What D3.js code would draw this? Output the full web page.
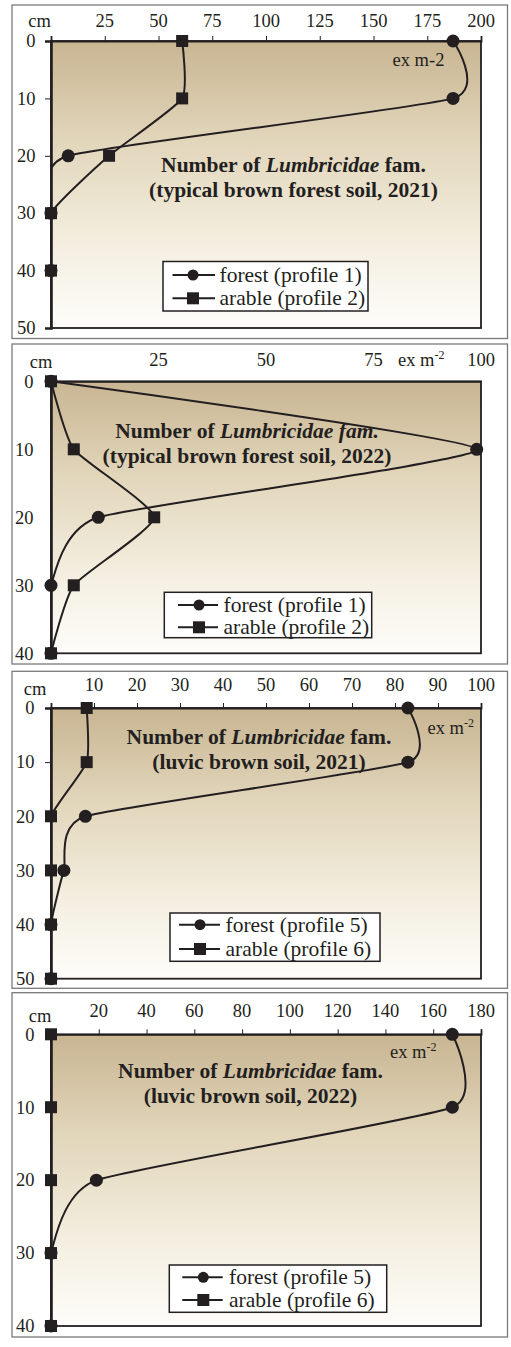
<!DOCTYPE html>
<html>
<head>
<meta charset="utf-8">
<script src="https://cdn.jsdelivr.net/npm/d3@7"></script>
<style>
  html, body { margin: 0; padding: 0; background: #fff; }
  svg { display: block; }
  text { font-family: "Liberation Serif", "Times New Roman", serif; fill: #231f20; }
</style>
</head>
<body>
<svg id="chart" width="511" height="1347"></svg>
<script>
// ---------- DATA ----------
// Panel 1: typical brown forest soil, 2021
const depths1 = [0, 10, 20, 30, 40];
const forest1 = [187, 187, 8, 0, 0];
const arable1 = [61, 61, 27, 0, 0];
const xTicks1 = [0, 25, 50, 75, 100, 125, 150, 175, 200];
const yTicks1 = [0, 10, 20, 30, 40, 50];

// Panel 2: typical brown forest soil, 2022
const depths2 = [0, 10, 20, 30, 40];
const forest2 = [0, 99, 11, 0, 0];
const arable2 = [0, 5.3, 24, 5.3, 0];
const xTicks2 = [0, 25, 50, 75, 100];
const yTicks2 = [0, 10, 20, 30, 40];

// Panel 3: luvic brown soil, 2021
const depths3 = [0, 10, 20, 30, 40, 50];
const forest3 = [83, 83, 8, 3, 0, 0];
const arable3 = [8.3, 8.3, 0, 0, 0, 0];
const xTicks3 = [0, 10, 20, 30, 40, 50, 60, 70, 80, 90, 100];
const yTicks3 = [0, 10, 20, 30, 40, 50];

// Panel 4: luvic brown soil, 2022
const depths4 = [0, 10, 20, 30, 40];
const forest4 = [168, 168, 19, 0, 0];
const arable4 = [0, 0, 0, 0, 0];
const xTicks4 = [0, 20, 40, 60, 80, 100, 120, 140, 160, 180];
const yTicks4 = [0, 10, 20, 30, 40];

const titles = [
  ["(typical brown forest soil, 2021)", false],
  ["(typical brown forest soil, 2022)", true],
  ["(luvic brown soil, 2021)", false],
  ["(luvic brown soil, 2022)", false]
];
const legendLabels = [
  ["forest (profile 1)", "arable (profile 2)"],
  ["forest (profile 1)", "arable (profile 2)"],
  ["forest (profile 5)", "arable (profile 6)"],
  ["forest (profile 5)", "arable (profile 6)"]
];
const unitSuper = [false, true, true, true];

// ---------- LAYOUT ----------
const layouts = [
  { frame: [12, 5, 507.5, 338.5], plot: [51, 41, 481, 328], showTicks: true,
    tickBase: 26.5, cmBase: 26.5, cmX: 39.5, yLabX: 35.5,
    unit: { x: 392.5, y: 65.5, inRow: false },
    title: { x: 293.5, y: 171.5 },
    legend: { box: [163, 261.5, 368, 311], rows: [275, 298.3], line: [172.5, 215], mark: 193, text: 219.5 } },
  { frame: [12, 344, 507.5, 664], plot: [51, 381.3, 481, 653.3], showTicks: false,
    tickBase: 365.5, cmBase: 368.3, cmX: 41, yLabX: 33.5,
    unit: { x: 398, y: 365.5, inRow: true },
    title: { x: 247, y: 438.3 },
    legend: { box: [164.3, 592.3, 371.7, 637.7], rows: [605, 627.3], line: [178, 218], mark: 199, text: 223.5 } },
  { frame: [12, 671.3, 507.5, 988.3], plot: [51, 708, 481, 978.7], showTicks: true,
    tickBase: 690.7, cmBase: 694.7, cmX: 35, yLabX: 34.5,
    unit: { x: 427.5, y: 733.7, inRow: false },
    title: { x: 259, y: 744 },
    legend: { box: [170, 913, 380, 961.3], rows: [924.7, 949], line: [179, 220], mark: 200, text: 225.5 } },
  { frame: [12, 992.7, 507.5, 1337], plot: [51, 1034.3, 481, 1326], showTicks: true,
    tickBase: 1016.7, cmBase: 1021.7, cmX: 40, yLabX: 34.5,
    unit: { x: 390, y: 1058.3, inRow: false },
    title: { x: 250.5, y: 1077.7 },
    legend: { box: [169.3, 1265, 386.7, 1312.3], rows: [1277.3, 1300], line: [182.3, 222.7], mark: 203.3, text: 229 } }
];

const panels = [
  { depths: depths1, forest: forest1, arable: arable1, xTicks: xTicks1, yTicks: yTicks1 },
  { depths: depths2, forest: forest2, arable: arable2, xTicks: xTicks2, yTicks: yTicks2 },
  { depths: depths3, forest: forest3, arable: arable3, xTicks: xTicks3, yTicks: yTicks3 },
  { depths: depths4, forest: forest4, arable: arable4, xTicks: xTicks4, yTicks: yTicks4 }
];

const ink = "#231f20";
const svg = d3.select("#chart");
const defs = svg.append("defs");
const grad = defs.append("linearGradient").attr("id", "soil")
  .attr("x1", 0).attr("y1", 0).attr("x2", 0).attr("y2", 1);
grad.append("stop").attr("offset", "0%").attr("stop-color", "#c8b592");
grad.append("stop").attr("offset", "35%").attr("stop-color", "#e2d6bb");
grad.append("stop").attr("offset", "70%").attr("stop-color", "#f3eedf");
grad.append("stop").attr("offset", "100%").attr("stop-color", "#fefdfa");

const curve = d3.curveCardinal.tension(0.5);

panels.forEach((p, i) => {
  const L = layouts[i];
  const [px0, py0, px1, py1] = L.plot;
  const x = d3.scaleLinear().domain([0, d3.max(p.xTicks)]).range([px0, px1]);
  const y = d3.scaleLinear().domain([0, d3.max(p.yTicks)]).range([py0, py1]);
  const g = svg.append("g");

  // outer frame
  const [fx0, fy0, fx1, fy1] = L.frame;
  g.append("rect").attr("x", fx0).attr("y", fy0).attr("width", fx1 - fx0).attr("height", fy1 - fy0)
    .attr("fill", "#fff").attr("stroke", "#7a7a7a").attr("stroke-width", 1.3);

  // plot area
  g.append("rect").attr("x", px0).attr("y", py0).attr("width", px1 - px0).attr("height", py1 - py0)
    .attr("fill", "url(#soil)").attr("stroke", ink).attr("stroke-width", 1.8);

  // top axis
  const xAxis = d3.axisTop(x).tickValues(p.xTicks).tickSize(L.showTicks ? 5 : 0).tickFormat("");
  const xa = g.append("g").attr("transform", `translate(0,${py0})`).call(xAxis);
  xa.select(".domain").attr("stroke", ink).attr("stroke-width", 1.8);
  xa.selectAll(".tick line").attr("stroke", ink).attr("stroke-width", 1);
  g.selectAll(".xlab").data(p.xTicks.filter(v => v > 0)).enter().append("text")
    .attr("x", d => x(d)).attr("y", L.tickBase).attr("text-anchor", "middle")
    .attr("font-size", 18.5).text(d => d);

  // left axis
  const yAxis = d3.axisLeft(y).tickValues(p.yTicks).tickSize(L.showTicks ? 6 : 0).tickFormat("");
  const ya = g.append("g").attr("transform", `translate(${px0},0)`).call(yAxis);
  ya.select(".domain").attr("stroke", ink).attr("stroke-width", 2.6);
  ya.selectAll(".tick line").attr("stroke", ink).attr("stroke-width", 1);
  g.selectAll(".ylab").data(p.yTicks).enter().append("text")
    .attr("x", L.yLabX).attr("y", d => y(d)).attr("dy", "0.34em").attr("text-anchor", "end")
    .attr("font-size", 18.5).text(d => d);

  g.append("text").attr("x", L.cmX).attr("y", L.cmBase).attr("text-anchor", "middle")
    .attr("font-size", 18.5).text("cm");

  // unit
  const u = g.append("text").attr("x", L.unit.x).attr("y", L.unit.y).attr("font-size", 18.5);
  if (unitSuper[i]) {
    u.append("tspan").text("ex m");
    u.append("tspan").attr("font-size", 12).attr("dy", -7).text("-2");
  } else {
    u.text("ex m-2");
  }

  // title
  const t1 = g.append("text").attr("x", L.title.x).attr("y", L.title.y).attr("text-anchor", "middle")
    .attr("font-size", 21.5).attr("font-weight", "bold");
  t1.append("tspan").text("Number of ");
  t1.append("tspan").attr("font-style", "italic").text("Lumbricidae");
  t1.append("tspan").attr("font-style", titles[i][1] ? "italic" : "normal").text(" fam.");
  g.append("text").attr("x", L.title.x).attr("y", L.title.y + 25).attr("text-anchor", "middle")
    .attr("font-size", 21.5).attr("font-weight", "bold").text(titles[i][0]);

  // series
  const clipId = "clip" + i;
  defs.append("clipPath").attr("id", clipId).append("rect")
    .attr("x", px0 - 1).attr("y", py0 - 8).attr("width", px1 - px0 + 10).attr("height", py1 - py0 + 16);

  const series = [
    { vals: p.forest, shape: "circle" },
    { vals: p.arable, shape: "square" }
  ];
  const line = d3.line().x(d => x(d[0])).y(d => y(d[1])).curve(curve);
  series.forEach(s => {
    const pts = s.vals.map((v, k) => [v, p.depths[k]]);
    g.append("path").attr("d", line(pts)).attr("fill", "none").attr("stroke", ink)
      .attr("stroke-width", 2).attr("clip-path", `url(#${clipId})`);
    if (s.shape === "circle") {
      g.selectAll(null).data(pts).enter().append("circle")
        .attr("cx", d => x(d[0])).attr("cy", d => y(d[1])).attr("r", 6.5).attr("fill", ink);
    } else {
      g.selectAll(null).data(pts).enter().append("rect")
        .attr("x", d => x(d[0]) - 6).attr("y", d => y(d[1]) - 6)
        .attr("width", 12).attr("height", 12).attr("fill", ink);
    }
  });

  // legend
  const lg = L.legend;
  g.append("rect").attr("x", lg.box[0]).attr("y", lg.box[1])
    .attr("width", lg.box[2] - lg.box[0]).attr("height", lg.box[3] - lg.box[1])
    .attr("fill", "#fff").attr("stroke", ink).attr("stroke-width", 1.5);
  legendLabels[i].forEach((lab, k) => {
    const ry = lg.rows[k];
    g.append("line").attr("x1", lg.line[0]).attr("x2", lg.line[1]).attr("y1", ry).attr("y2", ry)
      .attr("stroke", ink).attr("stroke-width", 2);
    if (k === 0) {
      g.append("circle").attr("cx", lg.mark).attr("cy", ry).attr("r", 5.5).attr("fill", ink);
    } else {
      g.append("rect").attr("x", lg.mark - 6).attr("y", ry - 6).attr("width", 12).attr("height", 12).attr("fill", ink);
    }
    g.append("text").attr("x", lg.text).attr("y", ry).attr("dy", "0.33em")
      .attr("font-size", 21.5).text(lab);
  });
});
</script>
</body>
</html>
